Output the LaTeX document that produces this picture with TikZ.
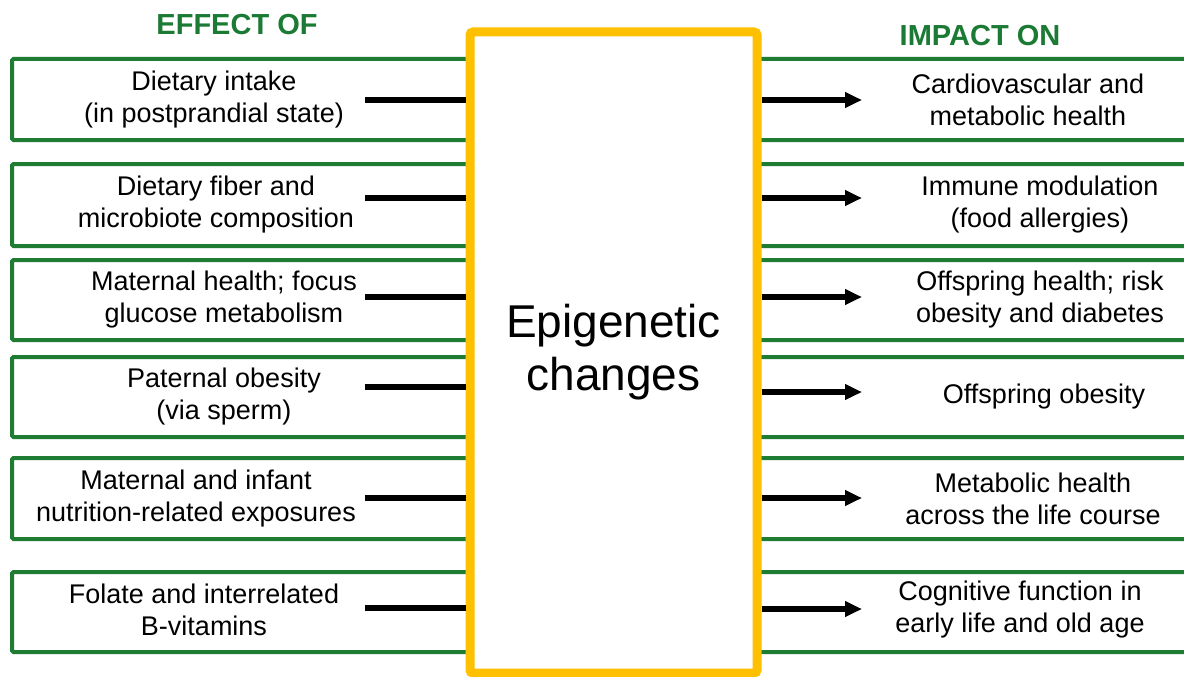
\documentclass[tikz,border=0pt]{standalone}
\usepackage{fontspec}
\setmainfont{Liberation Sans}
\usetikzlibrary{arrows.meta}
\definecolor{boxgreen}{HTML}{1E7D32}
\definecolor{headgreen}{HTML}{1B7A34}
\definecolor{gold}{HTML}{FFC000}
\begin{document}
\begin{tikzpicture}[x=1pt,y=-1pt,
  greenbox/.style={draw=boxgreen, line width=4pt, rounded corners=1.5pt, inner sep=0pt},
  lbox/.style={greenbox, minimum width=458pt},
  rbox/.style={greenbox, minimum width=440pt},
  txt/.style={align=center, font=\fontsize{27}{32}\selectfont, inner sep=0pt},
  head/.style={font=\fontsize{29}{34}\selectfont\bfseries, text=headgreen, inner sep=0pt},
  conn/.style={line width=5.5pt},
  arr/.style={line width=5.5pt, -{Triangle[length=17pt,width=15pt]}}]
\useasboundingbox (0,0) rectangle (1184,677);
\clip (0,0) rectangle (1184,677);
\fill[white] (0,0) rectangle (1184,677);
% headings
\node[head] (hl) at (237,25) {EFFECT OF};
\node[head] (hr) at (980,36) {IMPACT ON};
% left boxes
\node[lbox, minimum height=81pt] (lb1) at (241,99.5) {};
\node[lbox, minimum height=82pt] (lb2) at (241,205) {};
\node[lbox, minimum height=80pt] (lb3) at (241,300) {};
\node[lbox, minimum height=80pt] (lb4) at (241,397) {};
\node[lbox, minimum height=81pt] (lb5) at (241,498.5) {};
\node[lbox, minimum height=80pt] (lb6) at (241,612) {};
% right boxes
\node[rbox, minimum height=81pt] (rb1) at (977,99.5) {};
\node[rbox, minimum height=82pt] (rb2) at (977,205) {};
\node[rbox, minimum height=80pt] (rb3) at (977,300) {};
\node[rbox, minimum height=80pt] (rb4) at (977,397) {};
\node[rbox, minimum height=81pt] (rb5) at (977,498.5) {};
\node[rbox, minimum height=80pt] (rb6) at (977,612) {};
% central box
\node[draw=gold, line width=9pt, fill=white, rounded corners=3pt, minimum width=287pt, minimum height=641pt, align=center, inner sep=0pt, font=\fontsize{46}{53}\selectfont] (epi) at (613.5,352.5) {Epigenetic\\changes};
% left texts
\node[txt] (l1) at (214,99.5) {Dietary intake\\(in postprandial state)};
\node[txt] (l2) at (216,205) {Dietary fiber and\\microbiote composition};
\node[txt] (l3) at (224,300) {Maternal health; focus\\glucose metabolism};
\node[txt] (l4) at (224,397) {Paternal obesity\\(via sperm)};
\node[txt] (l5) at (196,498.5) {Maternal and infant\\nutrition-related exposures};
\node[txt] (l6) at (204,610) {Folate and interrelated\\B-vitamins};
% right texts
\node[txt] (r1) at (1028,99.5) {Cardiovascular and\\metabolic health};
\node[txt] (r2) at (1040,205) {Immune modulation\\(food allergies)};
\node[txt] (r3) at (1040,300) {Offspring health; risk\\obesity and diabetes};
\node[txt] (r4) at (1044,397) {Offspring obesity};
\node[txt] (r5) at (1033,498.5) {Metabolic health\\across the life course};
\node[txt] (r6) at (1020,610) {Cognitive function in\\early life and old age};
% connector ends
\coordinate (ls1) at (365,100);
\coordinate (ls2) at (365,198);
\coordinate (ls3) at (365,297);
\coordinate (ls4) at (365,387);
\coordinate (ls5) at (365,498);
\coordinate (ls6) at (365,608);
\coordinate (rs1) at (862,100);
\coordinate (rs2) at (862,198);
\coordinate (rs3) at (862,297);
\coordinate (rs4) at (862,392);
\coordinate (rs5) at (862,498);
\coordinate (rs6) at (862,609);
\foreach \i in {1,...,6}{
  \draw[conn] (ls\i) -- (ls\i -| epi.west);
  \draw[arr] (epi.east |- rs\i) -- (rs\i);
}
\end{tikzpicture}
\end{document}
